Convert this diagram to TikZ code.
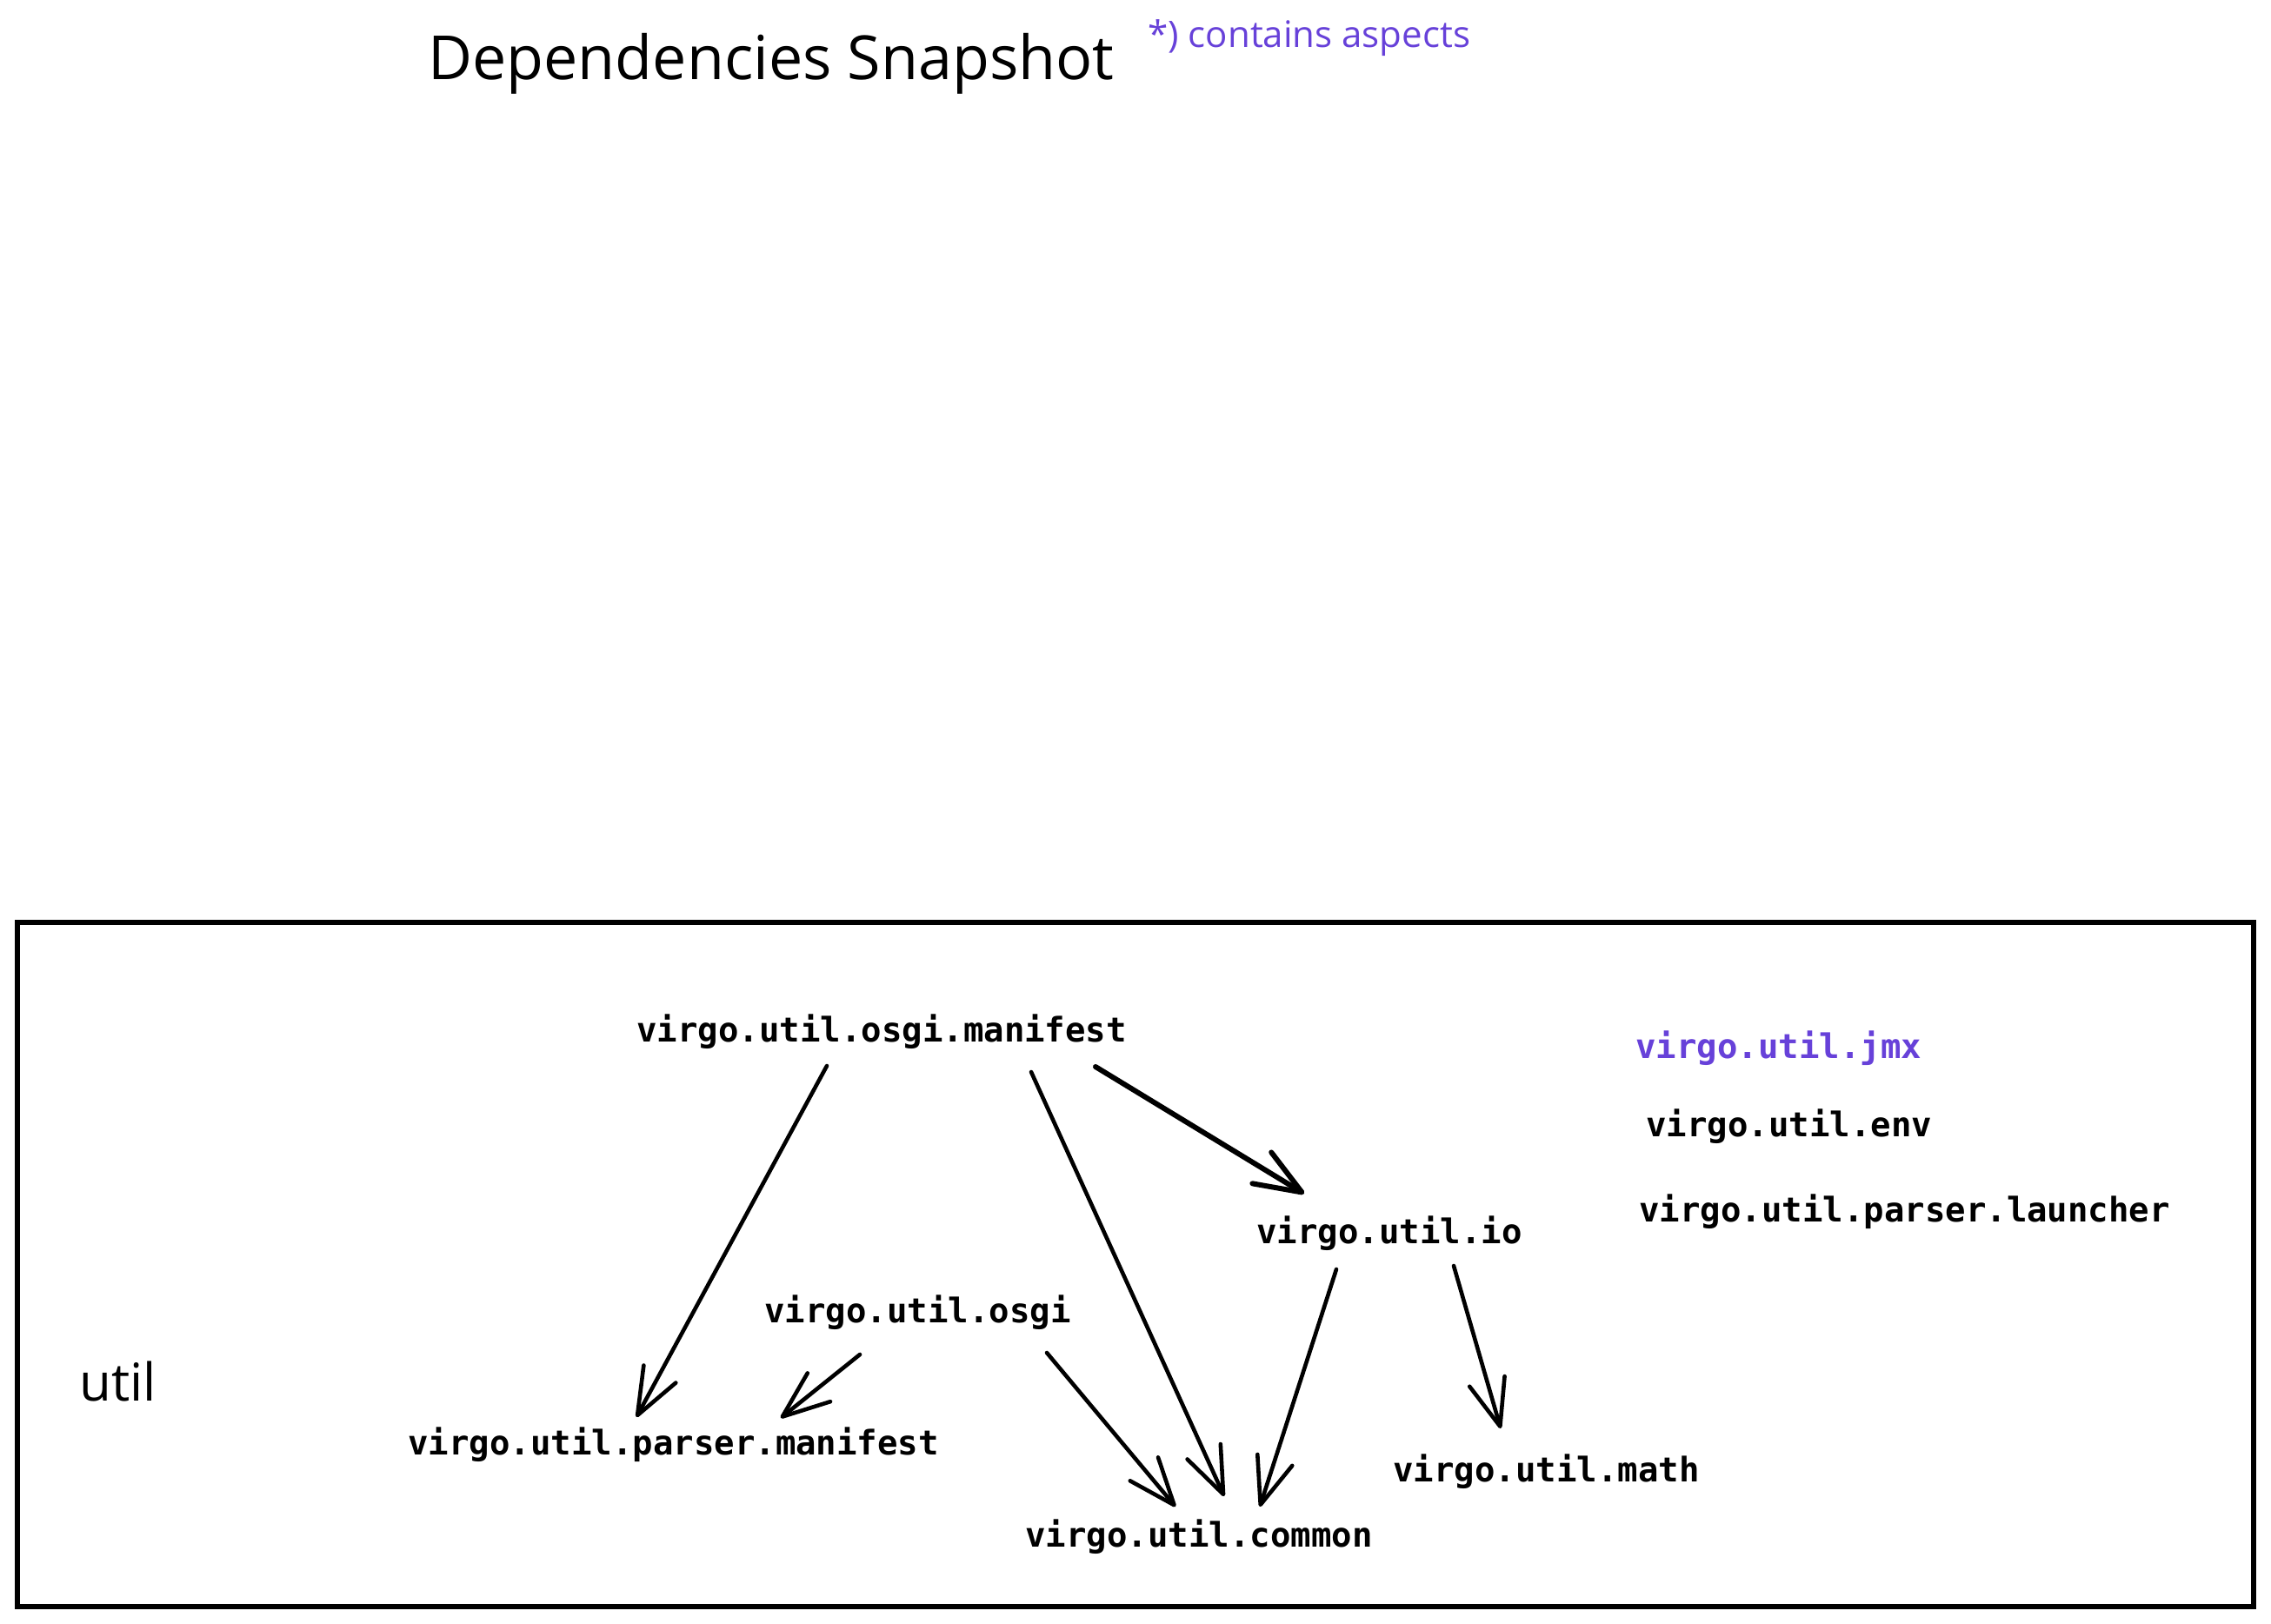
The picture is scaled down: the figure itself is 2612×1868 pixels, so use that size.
\documentclass[tikz,border=0pt]{standalone}
\usepackage{fontspec}
\setmainfont{Open Sans}
\newfontfamily\monofont{DejaVu Sans Mono}
\newfontfamily\handfont{Open Sans}
\usetikzlibrary{arrows.meta}
\definecolor{ink}{HTML}{000000}
\definecolor{accent}{HTML}{6741D9}
\begin{document}
\begin{tikzpicture}[x=0.5pt,y=-0.5pt,
  pkg/.style={font=\monofont\bfseries\fontsize{19.5pt}{23pt}\selectfont, text=ink, inner sep=0pt, anchor=base west},
  dep/.style={draw=ink, line width=2.3pt, line cap=round, line join=round,
    -{Straight Barb[length=27pt,width=21pt,round]}},
  frame/.style={draw=ink, line width=2.8pt}
]
\useasboundingbox (0,0) rectangle (2612,1868);

% title and note
\node[anchor=base west, inner sep=0pt, text=ink, font=\handfont\fontsize{35pt}{40pt}\selectfont] (title) at (492,92) {Dependencies Snapshot};
\node[anchor=base west, inner sep=0pt, text=accent, font=\handfont\fontsize{21pt}{25pt}\selectfont] (note) at (1320,55) {*) contains aspects};

% frame
\draw[frame] (20,1061) rectangle (2592,1848);
\node[anchor=base west, inner sep=0pt, text=ink, font=\handfont\fontsize{30pt}{34pt}\selectfont] (util) at (91,1611) {util};

% packages
\node[pkg] (om) at (732,1198) {virgo.util.osgi.manifest};
\node[pkg, text=accent] (jmx) at (1881,1217) {virgo.util.jmx};
\node[pkg] (env) at (1893,1307) {virgo.util.env};
\node[pkg] (launch) at (1885,1405) {virgo.util.parser.launcher};
\node[pkg] (io) at (1445,1430) {virgo.util.io};
\node[pkg] (osgi) at (879,1521) {virgo.util.osgi};
\node[pkg] (pm) at (469,1673) {virgo.util.parser.manifest};
\node[pkg] (math) at (1602,1704) {virgo.util.math};
\node[pkg] (common) at (1179,1779) {virgo.util.common};

% dependencies
\draw[dep] ([shift={(219,28)}]om.base west) -- ([shift={(263,-43)}]pm.base west);
\draw[dep] ([shift={(454,35)}]om.base west) -- ([shift={(229,-58)}]common.base west);
\draw[dep, line width=3pt] ([shift={(528,29)}]om.base west) -- ([shift={(55,-57)}]io.base west);
\draw[dep] ([shift={(110,37)}]osgi.base west) -- ([shift={(429,-42)}]pm.base west);
\draw[dep] ([shift={(325,35)}]osgi.base west) -- ([shift={(173,-46)}]common.base west);
\draw[dep] ([shift={(92,30)}]io.base west) -- ([shift={(270,-46)}]common.base west);
\draw[dep] ([shift={(227,26)}]io.base west) -- ([shift={(124,-61)}]math.base west);
\end{tikzpicture}
\end{document}
